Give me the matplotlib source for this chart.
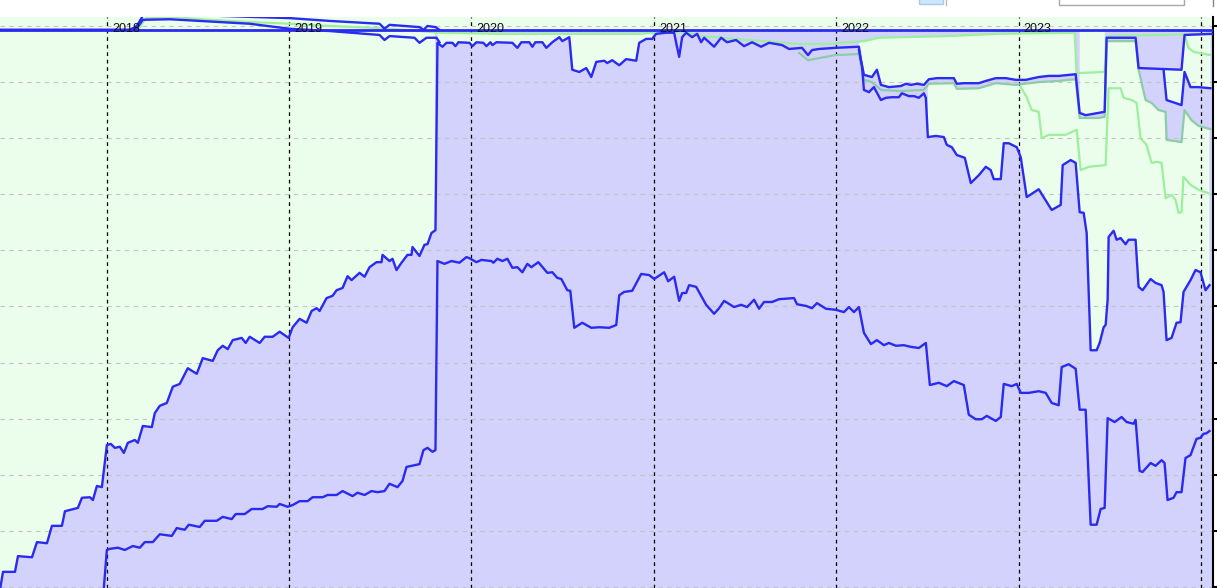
import numpy as np
import matplotlib
matplotlib.use("Agg")
import matplotlib.pyplot as plt
from matplotlib.patches import Rectangle
from matplotlib.lines import Line2D

# x values are days since 2018-01-01, y values are percent of the total
years = [2018, 2019, 2020, 2021, 2022, 2023, 2024]
year_days = [0, 365, 730, 1096, 1461, 1826, 2191]
year_labels = ["2018", "2019", "2020", "2021", "2022", "2023"]

top_days = [-214, 2215]
top_vals = [99.3, 99.3]

c1_days = [-214, 46, 60, 72, 136, 226, 366, 446, 546, 556, 566, 626, 634, 642, 658, 666]
c1_vals = [99.3, 99.3, 100.0, 101.8, 102.1, 101.8, 101.4, 100.9, 100.4, 99.5, 100.2, 99.8, 99.3, 100.0, 99.8, 99.3]

c2_days = [-214, 46, 60, 72, 126, 186, 286, 366, 446, 546, 556, 566, 616, 626, 640, 660, 666]
c2_vals = [99.3, 99.3, 99.6, 101.1, 101.2, 100.9, 100.4, 99.5, 99.1, 98.4, 97.5, 98.2, 97.9, 97.0, 97.9, 97.9, 97.1]

g1_days = [56, 66, 78, 136, 186, 286, 366, 446, 546, 556, 566, 626, 666, 786, 906, 1066, 1096, 1116,
           1166, 1186, 1286, 1386, 1446, 1486, 1516, 1546, 1686, 1786, 1938, 1942, 1998, 2002, 2215]
g1_vals = [99.3, 99.8, 101.4, 101.6, 101.2, 100.7, 100.4, 100.0, 99.6, 99.1, 99.5, 99.1, 98.8, 98.6, 98.6,
           98.6, 98.8, 99.1, 98.8, 98.2, 97.5, 96.8, 96.8, 97.1, 97.3, 97.9, 98.2, 98.6, 98.8, 91.6, 91.8,
           98.2, 98.6]

a_days = [-214, -208, -184, -178, -150, -140, -120, -110, -90, -84, -58, -50, -34, -28, -20, -10, 0, 8, 16,
          26, 34, 42, 56, 62, 72, 90, 96, 106, 120, 132, 146, 162, 180, 192, 212, 222, 232, 242, 252, 270,
          278, 286, 306, 316, 332, 346, 364, 372, 386, 400, 410, 420, 426, 440, 452, 460, 472, 482, 490, 506,
          516, 526, 540, 550, 552, 566, 572, 580, 590, 602, 610, 612, 626, 636, 642, 650, 658,
          662, 672, 680, 692, 698, 704, 726, 732, 740, 754, 760, 768, 772, 780, 812, 822, 830, 846, 852, 858,
          872, 880, 892, 906, 912, 926, 932, 946, 960, 970, 980, 996, 1002, 1012, 1026, 1040, 1060, 1066,
          1080, 1092, 1100, 1120, 1136, 1140, 1146, 1152, 1160, 1172, 1182, 1190, 1196, 1216, 1230, 1242,
          1260, 1276, 1292, 1310, 1326, 1352, 1366, 1392, 1404, 1412, 1426, 1458, 1506, 1510, 1516, 1532,
          1542, 1550, 1566, 1590, 1600, 1610, 1622, 1636, 1646, 1662, 1696, 1702, 1716, 1746, 1760, 1780,
          1800, 1820, 1840, 1866, 1886, 1906, 1940, 1948, 1960, 1986, 1998, 2002, 2060, 2066, 2152, 2158, 2215]
a_vals = [-0.5, 2.7, 2.7, 5.5, 5.3, 8.0, 7.8, 10.9, 10.9, 13.5, 14.1, 15.9, 16.0, 15.5, 18.0, 17.8, 25.3, 25.5,
          24.8, 25.0, 23.9, 25.7, 26.2, 25.7, 28.7, 28.5, 31.0, 32.3, 32.8, 35.7, 36.2, 39.0, 38.0, 40.8, 40.3,
          42.2, 43.0, 42.4, 44.0, 44.4, 43.5, 44.6, 43.5, 44.6, 44.6, 45.5, 44.4, 46.3, 47.8, 47.1, 49.2, 49.7,
          49.2, 51.5, 51.9, 52.9, 53.3, 55.4, 54.7, 56.0, 55.3, 57.0, 57.9, 57.9, 59.2, 58.1, 58.5, 56.5, 57.8,
          59.2, 59.2, 60.6, 59.0, 61.0, 61.1, 63.1, 63.6,
          97.0, 96.3, 97.0, 97.0, 96.4, 97.1, 97.0, 96.4, 97.1, 97.0, 96.4, 97.1, 96.6, 97.1, 97.0, 96.1, 97.1,
          97.1, 96.3, 97.1, 97.1, 96.1, 97.1, 98.0, 97.3, 98.0, 92.2, 91.8, 92.5, 90.9, 93.6, 93.8, 93.4, 93.9,
          93.0, 94.1, 93.8, 97.0, 97.7, 97.7, 98.6, 98.8, 98.8, 97.0, 94.5, 98.0, 98.8, 98.0, 98.6, 97.1, 97.9,
          96.3, 97.9, 97.1, 97.5, 96.4, 97.1, 96.3, 97.0, 96.6, 95.9, 96.1, 94.8, 95.7, 95.9, 96.1, 96.3, 93.9,
          91.3, 90.9, 92.2, 89.5, 89.1, 89.3, 89.7, 89.5, 89.7, 89.5, 90.5, 90.7, 90.7, 89.7, 89.8, 89.8, 90.2,
          90.7, 90.7, 90.4, 90.4, 90.9, 91.1, 91.1, 91.4, 84.5, 84.1, 84.5, 84.7, 97.9, 97.9, 92.5, 92.2, 98.4, 98.6]

g2_days = [1386, 1404, 1458, 1506, 1510, 1516, 1532, 1550, 1590, 1636, 1646, 1696, 1702, 1746, 1780, 1820,
           1866, 1906, 1940, 1948, 1986, 1998, 2002, 2060, 2066, 2080, 2092, 2106, 2120, 2122, 2152, 2158,
           2172, 2186, 2210]
g2_vals = [95.2, 93.9, 94.8, 95.0, 93.0, 90.4, 90.0, 88.6, 88.4, 88.6, 89.7, 89.8, 88.8, 88.9, 89.8, 89.5,
           90.0, 90.2, 90.5, 83.6, 83.6, 83.8, 97.3, 97.3, 92.2, 86.8, 86.3, 85.0, 84.7, 79.7, 79.3, 85.0,
           83.2, 82.2, 81.6]

e_days = [2116, 2122, 2132, 2152, 2158, 2170, 2186, 2210]
e_vals = [92.2, 86.8, 86.5, 85.9, 91.8, 89.1, 89.1, 88.9]

g6_days = [2158, 2166, 2176, 2210]
g6_vals = [98.4, 96.1, 95.4, 94.8]

g3_days = [1830, 1842, 1852, 1866, 1872, 1886, 1920, 1942, 1950, 1966, 2000, 2006, 2030, 2036, 2052, 2062,
           2070, 2082, 2092, 2102, 2112, 2120, 2132, 2140, 2146, 2152, 2156, 2170, 2186, 2206]
g3_vals = [89.1, 87.3, 85.0, 84.7, 80.0, 80.6, 80.6, 81.5, 74.3, 74.9, 75.2, 88.9, 88.9, 87.2, 86.8, 86.3,
           80.0, 78.8, 75.6, 75.8, 75.6, 69.3, 69.9, 69.0, 66.7, 66.8, 73.1, 71.7, 70.8, 70.2]

d_days = [1506, 1512, 1516, 1526, 1536, 1550, 1560, 1572, 1586, 1592, 1606, 1616, 1626, 1636, 1640, 1644,
          1660, 1676, 1682, 1692, 1702, 1718, 1730, 1746, 1760, 1770, 1776, 1790, 1796, 1806, 1822, 1830,
          1842, 1866, 1892, 1910, 1914, 1930, 1940, 1948, 1956, 1962, 1968, 1970, 1982, 1988, 1996, 2000,
          2004, 2006, 2016, 2022, 2030, 2040, 2046, 2060, 2066, 2074, 2090, 2100, 2112, 2116, 2122, 2132,
          2142, 2150, 2156, 2170, 2180, 2190, 2200, 2208]
d_vals = [95.7, 93.0, 88.6, 88.2, 89.1, 86.8, 87.2, 87.3, 87.3, 88.0, 87.5, 87.5, 87.2, 88.0, 87.2, 80.2,
          80.4, 80.2, 78.8, 78.4, 77.0, 76.5, 72.0, 73.4, 74.9, 74.3, 72.7, 72.7, 79.1, 79.1, 78.4, 76.6,
          69.5, 70.9, 67.2, 68.1, 75.2, 76.1, 75.6, 66.8, 66.7, 63.1, 47.6, 42.2, 42.2, 43.5, 46.3, 46.7,
          51.2, 62.4, 63.5, 61.9, 62.2, 61.1, 61.9, 61.9, 53.5, 52.9, 54.9, 54.2, 53.8, 52.6, 44.0, 44.4,
          47.1, 47.2, 52.6, 54.7, 56.5, 56.1, 52.9, 53.8]

b_days = [-8, 0, 6, 22, 36, 52, 66, 76, 92, 106, 130, 140, 156, 164, 186, 196, 220, 232, 250, 258, 276, 290,
          312, 322, 340, 346, 362, 372, 386, 402, 412, 432, 442, 460, 472, 492, 502, 516, 530, 542, 556, 566,
          582, 592, 600, 626, 634, 642, 652, 658,
          662, 676, 690, 706, 720, 726, 740, 750, 770, 774, 782, 792, 802, 812, 822, 832, 842, 850, 864, 882,
          892, 902, 910, 922, 928, 936, 952, 970, 986, 1006, 1020, 1026, 1036, 1052, 1070, 1086, 1096, 1116,
          1124, 1136, 1146, 1152, 1160, 1166, 1180, 1200, 1216, 1226, 1236, 1256, 1270, 1282, 1296, 1306,
          1316, 1332, 1346, 1376, 1382, 1400, 1412, 1422, 1440, 1460, 1476, 1486, 1496, 1506, 1516, 1530,
          1542, 1556, 1566, 1580, 1596, 1610, 1626, 1640, 1648, 1666, 1682, 1696, 1716, 1726, 1740, 1752,
          1762, 1780, 1790, 1796, 1812, 1822, 1830, 1846, 1866, 1880, 1892, 1906, 1912, 1926, 1940, 1948,
          1960, 1970, 1982, 1990, 1998, 2004, 2018, 2032, 2042, 2056, 2060, 2068, 2074, 2090, 2100, 2112,
          2118, 2124, 2136, 2142, 2152, 2160, 2170, 2182, 2190, 2196, 2202, 2208]
b_vals = [-2.3, 6.6, 6.8, 7.0, 6.6, 7.3, 7.0, 8.0, 8.0, 9.4, 9.1, 10.5, 10.2, 11.1, 10.7, 11.8, 11.8, 12.5,
          12.1, 13.0, 13.0, 13.9, 13.9, 14.4, 14.3, 14.8, 14.3, 14.6, 15.3, 15.3, 16.0, 16.0, 16.4, 16.4, 17.1,
          16.2, 16.8, 16.4, 17.1, 16.9, 17.1, 18.4, 17.8, 18.9, 21.4, 21.9, 24.4, 24.8, 24.1, 24.4,
          58.1, 57.6, 58.1, 57.8, 58.8, 58.6, 57.9, 58.3, 58.1, 57.8, 58.5, 58.1, 58.5, 56.9, 57.0, 56.1, 57.6,
          57.0, 57.9, 56.0, 56.1, 55.1, 54.9, 52.9, 52.8, 46.2, 47.1, 46.2, 46.3, 46.2, 46.7, 52.0, 52.6, 52.8,
          55.8, 55.6, 54.9, 56.1, 54.5, 55.3, 51.0, 52.4, 52.4, 53.8, 53.5, 50.3, 48.7, 49.7, 51.0, 49.9, 50.3,
          49.9, 51.2, 49.6, 50.8, 50.8, 51.3, 51.5, 50.4, 50.1, 49.7, 50.6, 49.6, 49.4, 49.0, 49.9, 49.0, 49.9,
          45.3, 43.3, 44.0, 43.1, 43.5, 43.0, 43.1, 42.8, 42.6, 43.5, 36.0, 36.4, 35.8, 36.7, 36.0, 30.7, 29.9,
          29.9, 30.5, 29.6, 30.3, 36.2, 35.8, 36.2, 34.6, 34.6, 34.9, 34.6, 32.8, 32.4, 39.2, 39.7, 38.9, 31.6,
          31.6, 11.1, 11.1, 13.9, 14.1, 30.1, 29.4, 30.3, 29.4, 29.1, 29.8, 20.7, 20.5, 22.1, 21.6, 22.6, 22.1,
          15.5, 15.9, 16.9, 16.9, 23.0, 23.5, 26.4, 26.6, 27.3, 27.4, 27.8]

BLUE = "#2a2af0"
LAV = "#d2d2fc"
BG = "#ebfeeb"
GREEN = "#9cef9c"
TEAL = "#8ccda8"

W, H = 1217, 588
fig = plt.figure(figsize=(W / 100, H / 100), dpi=100)
ax = fig.add_axes([0, 0, 1213 / W, 571 / H])
ax.set_facecolor(BG)
ax.set_xlim(-214, 2215)
ax.set_ylim(-0.18, 101.6)

def curve(d, v):
    return np.array(d, float), np.array(v, float)

TOP = curve(top_days, top_vals)
A = curve(a_days, a_vals)
G1 = curve(g1_days, g1_vals)
G2 = curve(g2_days, g2_vals)
D = curve(d_days, d_vals)
E = curve(e_days, e_vals)
BASE = curve([-214, 2215], [-5, -5])

def band(up, lo, x0, x1, color):
    ux, uy = up
    lx, ly = lo
    mu = (ux > x0) & (ux < x1)
    ml = (lx > x0) & (lx < x1)
    px = [x0, *ux[mu], x1, x1, *lx[ml][::-1], x0]
    py = [np.interp(x0, ux, uy), *uy[mu], np.interp(x1, ux, uy),
          np.interp(x1, lx, ly), *ly[ml][::-1], np.interp(x0, lx, ly)]
    ax.fill(px, py, color=color, lw=0, zorder=1)

# lavender areas, then the green pockets on top of them
band(A, BASE, -214, 658, LAV)
band(TOP, BASE, 658, 2215, LAV)
band(G1, A, 662, 1092, BG)
band(G1, A, 1506, 1940, BG)
band(G2, D, 1644, 2208, BG)
band(TOP, A, 1948, 1998, BG)
band(A, E, 2116, 2210, BG)

# grid and year markers
ax.set_yticks(np.arange(0, 101, 10))
ax.set_xticks([])
ax.grid(axis="y", color="#c4c4c4", ls=(0, (4, 4)), lw=0.8)
for d in year_days:
    ax.axvline(d, color="black", ls=(0, (3, 3)), lw=0.9, zorder=1.6)
for d, lab in zip(year_days, year_labels):
    ax.text(d + 10, 99.5, lab, fontsize=9, family="Liberation Sans", color="#111111",
            va="center", ha="left", zorder=4)

# green lines
ax.plot(g1_days, g1_vals, color=GREEN, lw=1.6, zorder=2)
ax.plot(g3_days, g3_vals, color=GREEN, lw=1.6, zorder=2)
ax.plot(g6_days, g6_vals, color=GREEN, lw=1.6, zorder=2)
ax.plot(g2_days, g2_vals, color=TEAL, lw=1.6, zorder=2)

# blue lines
for dd, vv in [(c1_days, c1_vals), (c2_days, c2_vals), (a_days, a_vals), (b_days, b_vals),
               (d_days, d_vals), (e_days, e_vals)]:
    ax.plot(dd, vv, color=BLUE, lw=1.7, zorder=3)
ax.plot(top_days, top_vals, color=BLUE, lw=2.0, zorder=3)

for s in ["left", "top", "bottom"]:
    ax.spines[s].set_visible(False)
ax.spines["right"].set_linewidth(1.5)
ax.yaxis.tick_right()
ax.tick_params(axis="y", direction="out", length=6, width=1.5, labelright=False, labelleft=False)

# bits of the toolbar above the plot
fig.add_artist(Rectangle((919 / W, 1 - 4 / H), 24 / W, 10 / H, transform=fig.transFigure,
                         fc="#cfe5fb", ec="#a5cbee", lw=1))
fig.add_artist(Line2D([946 / W, 946 / W], [1, 1 - 5 / H], transform=fig.transFigure, color="#bbbbbb", lw=1))
fig.add_artist(Rectangle((1059 / W, 1 - 5 / H), 125 / W, 10 / H, transform=fig.transFigure,
                         fc="white", ec="#a8a8a8", lw=1))
fig.add_artist(Line2D([1213 / W, 1213 / W], [1, 1 - 6 / H], transform=fig.transFigure, color="#888888", lw=1))

fig.savefig("out.png", dpi=100)
